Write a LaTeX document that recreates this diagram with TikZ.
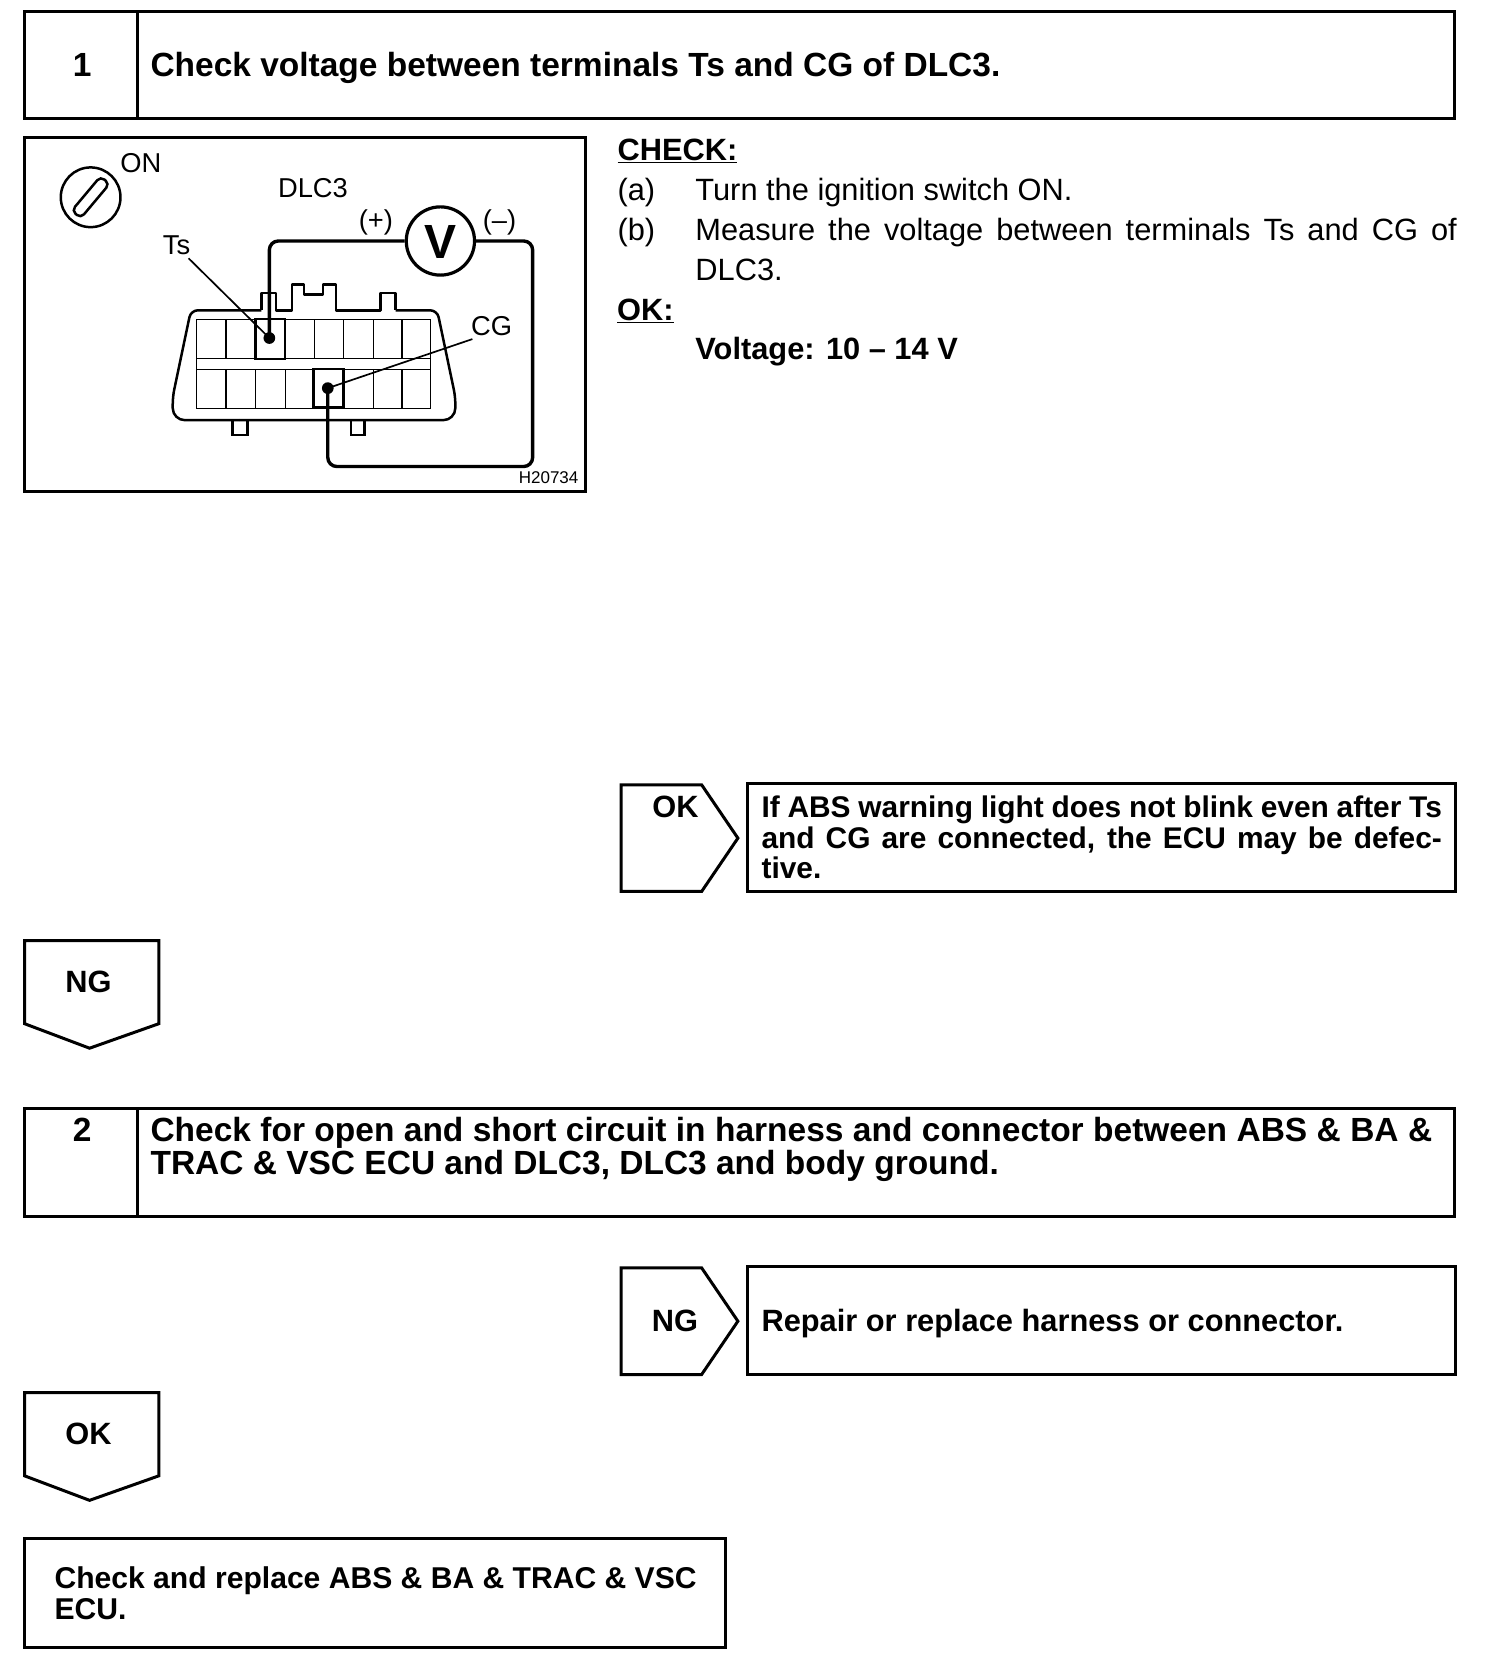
\documentclass[tikz,border=0pt]{standalone}
\usepackage{fontspec}
\setmainfont{Liberation Sans}
\newlength\U \setlength\U{1.06667pt}
\newcommand\fb{\fontsize{33.5}{31}\selectfont\bfseries}
\newcommand\fc{\fontsize{30.8}{31}\selectfont\bfseries}
\newcommand\fd{\fontsize{30.1}{31}\selectfont\bfseries}
\newcommand\fx{\fontsize{29.9}{31}\selectfont\bfseries}
\newcommand\fn{\fontsize{30.8}{31}\selectfont}
\newcommand\fs{\fontsize{27.3}{29}\selectfont}
\newcommand\ft{\fontsize{17}{18}\selectfont}
\tikzset{
  frame/.style={draw=black,line width=3pt},
  thin line/.style={draw=black,line width=1.2pt},
  med line/.style={draw=black,line width=2.5pt},
  wire/.style={draw=black,line width=3.4pt,rounded corners=9pt},
  txt/.style={inner sep=0pt,anchor=base west},
  ctr/.style={inner sep=0pt,anchor=base},
  mid/.style={inner sep=0pt,anchor=center},
}
\begin{document}
\begin{tikzpicture}[x=1.06667pt,y=-1.06667pt]
\useasboundingbox (0,0) rectangle (1410,1568);
\fill[white] (0,0) rectangle (1410,1568);
% step 1
\draw[frame] (23,11) rectangle (1364,111);
\draw[frame] (128.5,11) -- (128.5,111);
\node[ctr] (n1) at (77,71.7) {\fb 1};
\node[txt] (t1) at (141,71.7) {\fb Check voltage between terminals Ts and CG of DLC3.};
% figure
\draw[frame] (23,129) rectangle (549,461);
\draw[med line] (85,185) circle (28);
\draw[med line,rounded corners=5pt,rotate around={50:(85,185)}] (64,179.5) rectangle (106,190.5);
\node[ctr] (on) at (132,162) {\fs ON};
\node[ctr] (dlc) at (293.5,185) {\fs DLC3};
\node[ctr] (ts) at (165.5,239) {\fs Ts};
\node[ctr] (cg) at (461,315) {\fs CG};
\node[ctr] (plus) at (352.5,215) {\fs (+)};
\node[ctr] (minus) at (468.5,215) {\fs (--)};
\node[ctr] (hnum) at (514.5,453) {\ft H20734};
% connector body
\draw[med line,line join=round] (245,291) -- (245,275) -- (259,275) -- (259,291) -- (274,291) -- (274,267) -- (285,267) -- (285,276) -- (303,276) -- (303,267) -- (315,267) -- (315,291) -- (357,291) -- (357,275) -- (371,275) -- (371,291);
\draw[med line,rounded corners=7pt] (245,291) -- (179,291) -- (162,372) [sharp corners] -- (162,380) [rounded corners=12pt] -- (162,394) -- (225,394);
\draw[med line,rounded corners=7pt] (371,291) -- (410,291) -- (427,372) [sharp corners] -- (427,380) [rounded corners=12pt] -- (427,394) -- (225,394);
\draw[med line] (218,394) -- (218,408) -- (232,408) -- (232,394);
\draw[med line] (329,394) -- (329,408) -- (342,408) -- (342,394);
% grid
\draw[thin line] (184.6,299.4) rectangle (403.5,382.8);
\draw[thin line] (184.6,336) -- (403.5,336);
\draw[thin line] (184.6,346.3) -- (403.5,346.3);
\foreach \c in {212,239.6,267.8,294.9,322,350,377}{\draw[thin line] (\c,299.4) -- (\c,336);\draw[thin line] (\c,346.3) -- (\c,382.8);}
\draw[med line] (239.4,299) rectangle (267.4,336.6);
\draw[med line] (293.8,346) rectangle (322,382);
% dots and meter
\coordinate (dts) at (252.6,317);
\coordinate (dcg) at (307.4,364);
\coordinate (tsend) at (176.8,242.2);
\coordinate (cgend) at (443,318);
\fill (dts) circle (5.5);
\fill (dcg) circle (5.5);
\node[draw=black,line width=3.2pt,circle,minimum size=64\U,inner sep=0pt,fill=white] (vm) at (413,226) {};
\node[mid] (vl) at (413,227) {\fontsize{48}{48}\selectfont\bfseries V};
\draw[wire] (dts) |- (vm.west);
\draw[wire] (vm.east) -| (499.5,437.5) -| (dcg);
\draw[thin line,line width=1.7pt] (tsend) -- (dts);
\draw[thin line,line width=1.7pt] (cgend) -- (dcg);
% right text
\node[txt] (chk) at (579,150.7) {\fc \underline{CHECK:}};
\node[txt] (a) at (579,187.7) {\fn (a)};
\node[txt] (at) at (652,187.7) {\fn Turn the ignition switch ON.};
\node[txt] (b) at (579,225.7) {\fn (b)};
\node[txt] (bt) at (652,225.7) {\fn\makebox[714\U][s]{Measure the voltage between terminals Ts and CG of}};
\node[txt] (bt2) at (652,262.7) {\fn DLC3.};
\node[txt] (ok) at (578.5,300.7) {\fc \underline{OK:}};
\node[txt] (v) at (652,337) {\fc Voltage: 10 -- 14 V};
% OK 1
\draw[frame,line join=miter] (582.5,736) -- (658,736) -- (692,786) -- (658,836) -- (582.5,836) -- cycle;
\node[ctr] (ok1) at (633.5,767) {\fc OK};
\draw[frame] (701,735) rectangle (1365,836);
\node[txt] (x1) at (714,767) {\fx\makebox[638\U][s]{If ABS warning light does not blink even after Ts}};
\node[txt] (x2) at (714,796) {\fx\makebox[638\U][s]{and CG are connected, the ECU may be defec-}};
\node[txt] (x3) at (714,824) {\fx tive.};
% NG 1
\draw[frame,line join=miter] (23,882) -- (149,882) -- (149,960) -- (84,983) -- (23,960) -- cycle;
\node[ctr] (ng1) at (83,931) {\fc NG};
% step 2
\draw[frame] (23,1040) rectangle (1364,1141);
\draw[frame] (128.5,1040) -- (128.5,1141);
\node[ctr] (n2) at (77,1070.5) {\fb 2};
\node[txt] (s2a) at (141,1070.5) {\fb\makebox[1202\U][s]{Check for open and short circuit in harness and connector between ABS \& BA \&}};
\node[txt] (s2b) at (141,1101) {\fb TRAC \& VSC ECU and DLC3, DLC3 and body ground.};
% NG 2
\draw[frame,line join=miter] (582.5,1189) -- (658,1189) -- (692,1239) -- (658,1289) -- (582.5,1289) -- cycle;
\node[ctr] (ng2) at (633,1248.5) {\fc NG};
\draw[frame] (701,1188) rectangle (1365,1289);
\node[txt] (r) at (714,1248.5) {\fc Repair or replace harness or connector.};
% OK 2
\draw[frame,line join=miter] (23,1306) -- (149,1306) -- (149,1384) -- (84,1407) -- (23,1384) -- cycle;
\node[ctr] (ok2) at (83,1355) {\fc OK};
% final
\draw[frame] (23,1443) rectangle (680.5,1545);
\node[txt] (f1) at (51,1490) {\fd Check and replace ABS \& BA \& TRAC \& VSC};
\node[txt] (f2) at (51,1519) {\fd ECU.};
\end{tikzpicture}
\end{document}
